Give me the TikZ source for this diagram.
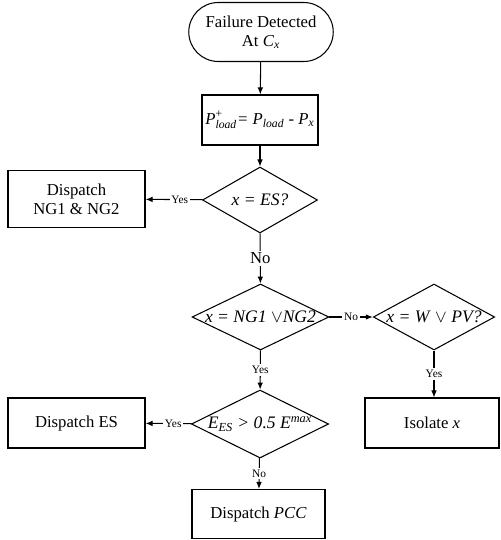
\documentclass[tikz,border=0pt]{standalone}
\usepackage{amsmath}
\usepackage{fontspec}
\setmainfont{Liberation Serif}
\usetikzlibrary{shapes.geometric,shapes.misc,arrows.meta}

\begin{document}
\begin{tikzpicture}[x=0.02cm,y=-0.02cm,
  font=\fontsize{9.5}{11}\selectfont,
  >={Latex[length=4pt,width=3.2pt]},
  term/.style={draw,semithick,rounded rectangle,align=center,inner sep=1pt},
  step box/.style={draw,semithick,rectangle,align=center,inner sep=1pt},
  decision/.style={draw,semithick,diamond,aspect=2.2,inner sep=0pt,font=\fontsize{10}{12}\selectfont},
  flow/.style={draw,semithick,->},
  lbl/.style={fill=white,inner sep=1pt,font=\fontsize{6.5}{7}\selectfont}]
\useasboundingbox (0,0) rectangle (500,540);

\node[term, minimum width=2.96cm, minimum height=1.18cm] (start) at (261,32) {Failure Detected\\At \textit{C}$_{\textit{x}}$};
\node[step box, minimum width=2.32cm, minimum height=1cm] (load) at (260,120) {$\textit{P}^{\text{+}}_{\textit{load}}$\textit{= P}$_{\textit{load}}$ \textit{- P}$_{\textit{x}}$};
\node[decision, minimum width=2.3cm, minimum height=1.32cm] (isES) at (260,200) {\textit{x = ES?}};
\node[step box, minimum width=2.74cm, minimum height=1.14cm] (ng) at (76.5,199) {Dispatch\\NG1 \& NG2};
\node[decision, minimum width=2.7cm, minimum height=1.32cm] (isNG) at (260.5,317) {\textit{x = NG1} $\vee$\textit{NG2}};
\node[decision, minimum width=2.3cm, minimum height=1.32cm] (isPV) at (434,317) {\textit{x = W} $\vee$ \textit{PV?}};
\node[decision, minimum width=2.7cm, minimum height=1.36cm] (soc) at (260,424) {\textit{E}$_{\textit{ES}}$ \textit{> 0.5 E}$^{\textit{max}}$};
\node[step box, minimum width=2.68cm, minimum height=1cm] (iso) at (432,423) {Isolate \textit{x}};
\node[step box, minimum width=2.74cm, minimum height=1cm] (es) at (76.5,423) {Dispatch ES};
\node[step box, minimum width=2.66cm, minimum height=0.98cm] (pcc) at (258.5,514) {Dispatch \textit{PCC}};

\path[flow] (start) -- (load);
\path[flow] (load) -- (isES);
\path[flow] (isES) -- node[lbl, pos=0.4]{Yes} (ng);
\path[flow] (isES) -- node[fill=white,inner sep=1pt]{No} (isNG);
\path[flow] (isNG) -- node[lbl]{No} (isPV);
\path[flow] (isNG) -- node[lbl]{Yes} (soc);
\path[flow] (isPV.south) -- node[lbl]{Yes} (iso.north -| isPV.south);
\path[flow] (soc) -- node[lbl, pos=0.4]{Yes} (es);
\path[flow] (soc) -- node[lbl]{No} (pcc);
\end{tikzpicture}
\end{document}
